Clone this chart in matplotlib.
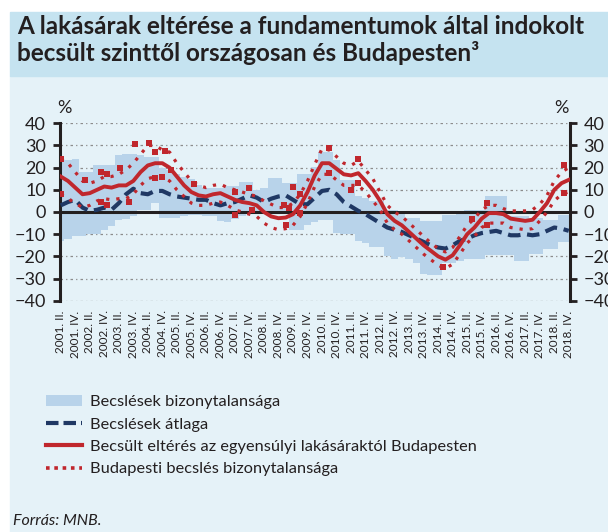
import numpy as np
import matplotlib
matplotlib.use('Agg')
import matplotlib.pyplot as plt
from matplotlib.patches import Rectangle, Patch
from matplotlib.lines import Line2D

plt.rcParams['font.family'] = ['Lato', 'DejaVu Sans']

# ---------------- data ----------------
years = list(range(2001, 2019))
halves = ['II.', 'IV.']
tick_labels = [f"{y}. {h}" for y in years for h in halves]

nat_mean = [3, 4.5, 5.5, 2, 0.5, 1, 2, 1, 4, 8,
            10.5, 8.5, 8, 9.5, 9.5, 8, 7, 6.5, 6, 5.5,
            5.5, 4, 3, 4, 4.5, 6, 7.5, 6.5, 4.5, 6,
            7, 7.5, 5.5, 3.5, 3.5, 6.5,
            9.5, 10, 8, 4.5, 2.5, 0.5, -1, -3, -5, -7,
            -8, -9, -10.5, -12, -13.5, -15, -16, -16.5, -15, -13,
            -12, -10.5, -9.5, -9, -8.5, -9.5, -10.5, -10.5, -10, -10.5,
            -10, -8.5, -7, -7.5, -8.5]

nat_hi = [23, 23.5, 24, 18, 18, 21, 21, 21, 25.5, 26,
          26, 25.5, 25, 25, 20, 19, 17, 16, 15, 12,
          11, 11, 11, 11.5, 11.5, 13.5, 13.5, 10, 11, 15.5,
          15.5, 13, 13, 17, 17, 20.5,
          27, 27, 23.5, 14.5, 14.5, 7, 6.5, 5, 5, 1,
          1, -0.5, -2.7, -2.7, -4, -4, -4, -1.5, -1.5, -1,
          1, 1, 1, 7, 7, 7, -2, -2, -2, -2.7,
          -2.7, -3.4, -3.4, -1.3, -1.3]

nat_lo = [-13, -12, -11, -11, -10, -10, -8, -6.5, -3.5, -3,
          -2, 1, 1, 4, -2.5, -2.5, -2.5, -2, -1.5, -1.5,
          -2, -2, -4, -4.5, -3, -2, -0.5, 0, 0, 0,
          -1, -1, -8, -8, -6, -4.5,
          -3.5, -3.5, -9.5, -10, -10, -13, -14, -16, -16, -20,
          -21, -20.5, -21, -23, -28, -28.5, -28.5, -23, -23, -22,
          -21, -21, -21, -19.5, -19.5, -19.5, -19.5, -22, -22, -19,
          -19, -16.5, -16.5, -13.5, -13.5]

bp = [16, 14, 11, 8, 8.5, 10, 11.5, 11, 12, 12,
      14, 18, 21, 22, 22, 20, 16, 12, 9, 7.5,
      7, 8, 8.5, 7, 5.5, 4.5, 4, 3, 0, -2,
      -2.8, -2.5, -1, 3, 9, 16.5,
      22, 22, 19.5, 17, 16.5, 17.5, 14, 10, 5, -1,
      -4, -6, -9, -12, -15, -17.5, -20, -21.5, -19.5, -15,
      -10, -7, -3, -0.5, -0.5, -1, -3, -3.5, -4, -3.5,
      0, 4, 10, 13, 14.5]

bp_hi = [24, 22, 18, 14, 13, 14, 16, 16, 17, 19,
         22, 26, 30, 30, 28, 27, 22, 18, 14, 12,
         11, 12, 12.5, 11, 10, 9, 8, 7, 5, 3.5,
         2, 2, 4, 8, 14, 21.5,
         28.5, 28, 25, 22, 21, 23, 19, 15, 9, 3,
         0, -2, -5, -8, -11, -14, -16.5, -18, -16, -11,
         -6, -3, 1, 3, 3, 1.5, 0.5, 0.5, 0.5, 1,
         3.5, 7.5, 14, 18, 20]

bp_lo = [8, 6, 4, 2, 3, 5, 6, 5.5, 6, 6,
         8, 12, 15, 16, 16, 14, 10, 7, 4, 3,
         3, 4, 4.5, 3, 1, 0, -1, -2, -5, -7,
         -8, -7.5, -6, -2, 4, 11.5,
         17, 17, 14.5, 12, 12, 12, 9, 5, 1, -5,
         -8, -10, -13, -16, -19, -21.5, -24, -25.5, -23.5, -19,
         -14, -11, -7, -5, -5, -5, -7, -7.5, -8, -7.5,
         -4, 0, 5, 8, 9]

sq_q = [0, 0, 3.4, 5.5, 6.4, 8.2, 5.5, 6.4, 9.4, 10.3, 12.2, 13, 14.4, 15.2,
        13, 14, 18.3, 24, 26, 24, 26.3, 31, 30.8, 32, 33, 31.5, 33, 36.9,
        36.9, 40.9, 40, 41, 52.7, 56.6, 58.7, 58.7, 69.4, 69.4]
sq_v = [24, 8, 14.4, 18, 17, 20, 4.6, 3, 4.6, 30.5, 31, 27, 27.5, 19,
        15.5, 15.7, 12.6, 9, 11, -1.3, 1, -5.8, 3, 11.4, 8, 1.8, -0.5, 29,
        17.6, 24, 10, 13, -25, -3, 4, -6, 21, 8.5]

title1 = "A lakásárak eltérése a fundamentumok által indokolt"
title2 = "becsült szinttől országosan és Budapesten³"
legend_labels = ["Becslések bizonytalansága", "Becslések átlaga",
                 "Becsült eltérés az egyensúlyi lakásáraktól Budapesten",
                 "Budapesti becslés bizonytalansága"]
source = "Forrás: MNB."

# ---------------- style ----------------
BAND = '#b8d3ea'
NAVY = '#1f3864'
RED = '#c0272d'
TXT = '#231f20'
W, H = 608, 532

q = np.arange(len(bp))

fig = plt.figure(figsize=(W / 100, H / 100), dpi=100)
fig.patches.append(Rectangle((10 / W, 0), 1 - 10 / W, (H - 76) / H,
                             transform=fig.transFigure, color='#e5f2f8', zorder=-10))
fig.patches.append(Rectangle((10 / W, (H - 76) / H), 1 - 10 / W, (76 - 12) / H,
                             transform=fig.transFigure, color='#c5e3f0', zorder=-10))

ax = fig.add_axes([60 / W, 1 - 300.7 / H, 509.5 / W, 177.4 / H])
ax.set_facecolor('none')
ax.set_zorder(2)

for yv in [-40, -30, -20, -10, 10, 20, 30, 40]:
    ax.axhline(yv, color='#8c8c8c', lw=0.9, ls=(0, (2, 2.5, 1, 2.5)), zorder=0.5)

ax.fill_between(q, nat_lo, nat_hi, step='mid', color=BAND, lw=0, zorder=1)
ax.axhline(0, color=TXT, lw=2.2, zorder=3)

ax.plot(q, nat_mean, color=NAVY, lw=3, ls=(0, (3, 1.6)), zorder=4)
ax.plot(q, bp_hi, color=RED, lw=2.3, ls=(0, (1, 2.2)), zorder=5)
ax.plot(q, bp_lo, color=RED, lw=2.3, ls=(0, (1, 2.2)), zorder=5)
ax.plot(q, bp, color=RED, lw=2.8, zorder=6)
ax.scatter(sq_q, sq_v, marker='s', s=22, color=RED, lw=0, zorder=6)

ax.set_xlim(-0.1, 70.1)
ax.set_ylim(-40, 40)
ax.set_yticks(range(-40, 41, 10))
for s in ['top', 'bottom']:
    ax.spines[s].set_visible(False)
for s in ['left', 'right']:
    ax.spines[s].set_linewidth(2.2)
    ax.spines[s].set_color(TXT)
ax.tick_params(axis='y', direction='out', length=5, width=2, labelsize=13,
               pad=5, colors=TXT, right=True, labelright=True)
ax.set_xticks(q[::2])
ax.set_xticklabels(tick_labels, rotation=90, fontsize=8.5, color=TXT)
ax.tick_params(axis='x', length=0, pad=7)

fig.text(64 / W, 1 - 108 / H, '%', ha='center', va='center', fontsize=13, color=TXT)
fig.text(561 / W, 1 - 108 / H, '%', ha='center', va='center', fontsize=13, color=TXT)

fig.text(17 / W, 1 - 27 / H, title1, fontsize=17.5, fontweight='bold', va='center', color=TXT)
fig.text(17 / W, 1 - 53 / H, title2, fontsize=17.5, fontweight='bold', va='center', color=TXT)

handles = [Patch(facecolor=BAND, edgecolor='none'),
           Line2D([], [], color=NAVY, lw=3, ls=(0, (3, 1.2))),
           Line2D([], [], color=RED, lw=3),
           Line2D([], [], color=RED, lw=2.6, ls=(0, (1, 1.3)))]
fig.legend(handles, legend_labels, loc='upper left', bbox_to_anchor=(46 / W, 1 - 395 / H),
           frameon=False, fontsize=11.8, handlelength=2.2, handletextpad=0.5,
           labelspacing=0.48, borderpad=0, borderaxespad=0, labelcolor=TXT)

fig.text(13 / W, 1 - 521 / H, source, fontsize=11.5, style='italic', va='center', color=TXT)

fig.savefig('out.png', dpi=100)
